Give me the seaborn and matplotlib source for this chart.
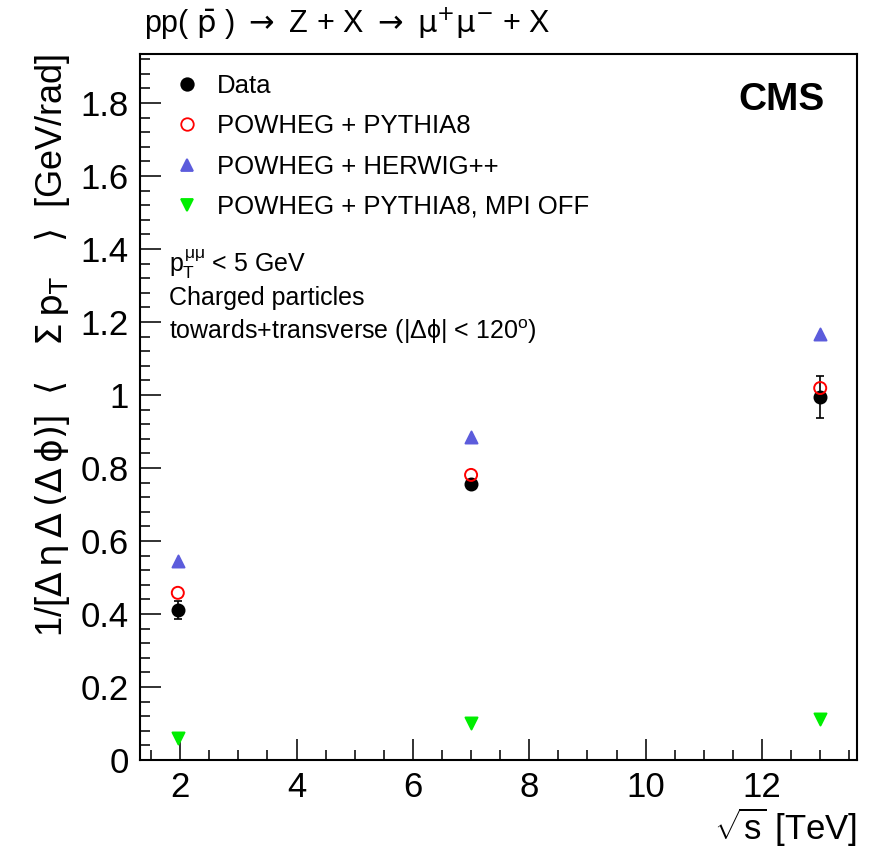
import numpy as np
import pandas as pd
import matplotlib
matplotlib.use('Agg')
import matplotlib.pyplot as plt
import seaborn as sns
from matplotlib.ticker import MultipleLocator
from matplotlib.lines import Line2D

# values
energy = [1.96, 7.0, 13.0]
data_val = [0.411, 0.756, 0.995]
data_err = [0.025, 0.012, 0.057]
pythia8 = [0.458, 0.781, 1.019]
herwig = [0.545, 0.885, 1.167]
pythia8_mpi_off = [0.060, 0.101, 0.112]

series_names = ['Data', 'POWHEG + PYTHIA8', 'POWHEG + HERWIG++',
                'POWHEG + PYTHIA8, MPI OFF']

df = pd.DataFrame({
    'sqrt_s': energy * 4,
    'value': data_val + pythia8 + herwig + pythia8_mpi_off,
    'sample': [n for n in series_names for _ in energy],
})

sns.set_style('ticks')
plt.rcParams['font.family'] = ['Liberation Sans', 'DejaVu Sans']
plt.rcParams['mathtext.fontset'] = 'custom'
plt.rcParams['mathtext.rm'] = 'Liberation Sans'
plt.rcParams['mathtext.it'] = 'Liberation Sans'
plt.rcParams['mathtext.bf'] = 'Liberation Sans:bold'
for key in ['text.color', 'axes.labelcolor', 'xtick.color', 'ytick.color',
            'xtick.labelcolor', 'ytick.labelcolor']:
    plt.rcParams[key] = 'black'

fig = plt.figure(figsize=(8.7, 8.51), dpi=100)
ax = fig.add_axes([0.1609, 0.1069, 0.824, 0.8296])

styles = {
    'Data': dict(marker='o', color='black', face='black', ms=12),
    'POWHEG + PYTHIA8': dict(marker='o', color='#ff0000', face='none', ms=12),
    'POWHEG + HERWIG++': dict(marker='^', color='#5c5cdc', face='#5c5cdc', ms=12),
    'POWHEG + PYTHIA8, MPI OFF': dict(marker='v', color='#00ee00', face='#00ee00', ms=12),
}

# error bars for data
ax.errorbar(energy, data_val, yerr=data_err, fmt='none', ecolor='black',
            elinewidth=1.2, capsize=3, capthick=1.2, zorder=2)

for name in ['POWHEG + HERWIG++', 'POWHEG + PYTHIA8, MPI OFF', 'Data',
             'POWHEG + PYTHIA8']:
    st = styles[name]
    sub = df[df['sample'] == name]
    sns.scatterplot(data=sub, x='sqrt_s', y='value', ax=ax, marker=st['marker'],
                    s=st['ms'] ** 2 * 0.52, facecolor=st['face'],
                    edgecolor=st['color'], linewidth=1.4, zorder=3, legend=False)

ax.set_xlim(1.31, 13.63)
ax.set_ylim(0, 1.934)
ax.xaxis.set_major_locator(MultipleLocator(2))
ax.xaxis.set_minor_locator(MultipleLocator(0.5))
ax.yaxis.set_major_locator(MultipleLocator(0.2))
ax.yaxis.set_minor_locator(MultipleLocator(0.04))
ax.yaxis.set_major_formatter(plt.FuncFormatter(lambda v, p: f'{v:g}'))
ax.tick_params(which='both', direction='in', top=False, right=False,
               labelsize=25, width=1.3, color='#222222')
ax.tick_params(which='major', length=15, pad=8)
ax.tick_params(which='minor', length=7.5)
for sp in ax.spines.values():
    sp.set_linewidth(1.5)
    sp.set_color('black')

ax.set_xlabel(r'$\sqrt{s}$ [TeV]', fontsize=25, loc='right', labelpad=1)
ylab = ax.set_ylabel(
    r'1/[$\Delta\,\mathrm{\eta}\,\Delta\,(\Delta\,\mathrm{\phi})$]'
    r'$\;\;\langle\quad\Sigma\,\mathrm{p}_{\mathrm{T}}\quad\rangle\;$ [GeV/rad]',
    fontsize=26, loc='top', labelpad=6)
ylab.set_math_fontfamily('dejavusans')

handles = []
for name in series_names:
    st = styles[name]
    handles.append(Line2D([], [], linestyle='none', marker=st['marker'],
                          markersize=9, markerfacecolor=st['face'],
                          markeredgecolor=st['color'], markeredgewidth=1.3))
ax.legend(handles, series_names, loc='upper left', bbox_to_anchor=(0.012, 1.005),
          frameon=False, fontsize=18.5, handletextpad=0.55, labelspacing=0.64,
          handlelength=1.2)

ax.text(0.04, 0.702, r'$p_{T}^{\mu\mu}$ < 5 GeV', transform=ax.transAxes,
        fontsize=18, va='center')
ax.text(0.04, 0.654, 'Charged particles', transform=ax.transAxes,
        fontsize=18, va='center')
ax.text(0.04, 0.606, r'towards+transverse (|$\Delta\phi$| < 120$^{o}$)',
        transform=ax.transAxes, fontsize=18, va='center')
ax.text(0.955, 0.935, 'CMS', transform=ax.transAxes, fontsize=28,
        fontweight='bold', ha='right', va='center')

title = fig.text(0.165, 0.972,
                 r'pp( $\bar{\rm p}$ ) $\rightarrow$ Z + X $\rightarrow$ '
                 r'$\mathrm{\mu}^{+}\mathrm{\mu}^{-}$ + X',
                 fontsize=22, ha='left', va='center')
title.set_math_fontfamily('dejavusans')

fig.savefig('out.png', dpi=100)
plt.close()
